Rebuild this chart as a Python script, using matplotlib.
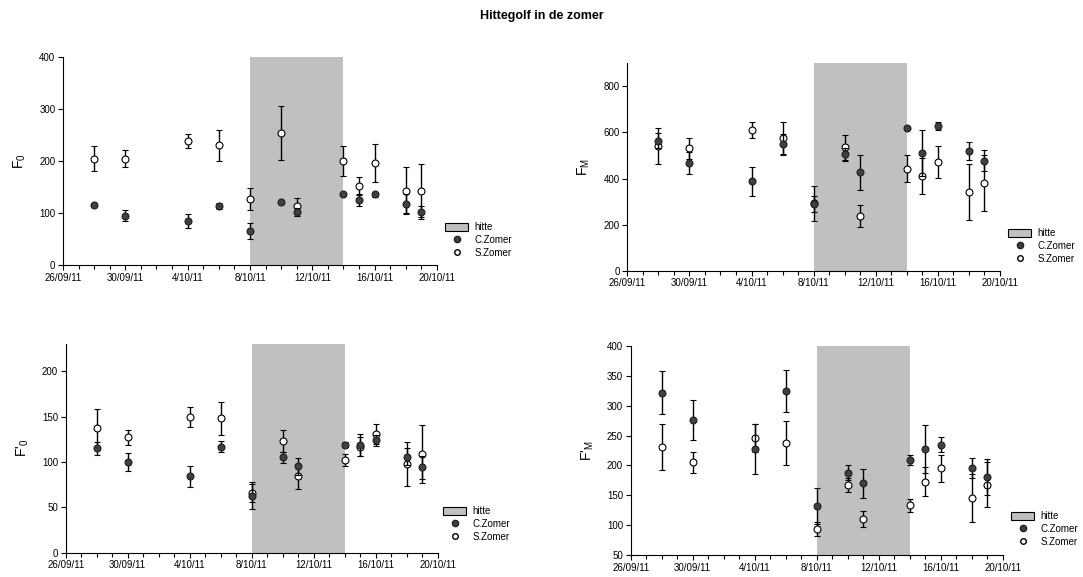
import numpy as np
import matplotlib
matplotlib.use("Agg")
import matplotlib.pyplot as plt
import matplotlib.dates as mdates
from matplotlib.patches import Patch
from matplotlib.lines import Line2D
import datetime as dt

plt.rcParams['font.family'] = ['Liberation Sans', 'DejaVu Sans']
plt.rcParams['mathtext.default'] = 'regular'

# measurement days
days = ['2011-09-28', '2011-09-30', '2011-10-04', '2011-10-06', '2011-10-08', '2011-10-10',
        '2011-10-11', '2011-10-14', '2011-10-15', '2011-10-16', '2011-10-18', '2011-10-19']
dates = [dt.datetime.strptime(d, '%Y-%m-%d') for d in days]
hitte_start = dt.datetime(2011, 10, 8)
hitte_end = dt.datetime(2011, 10, 14)

# F0
f0_c = [115, 95, 85, 114, 65, 121, 102, 136, 125, 136, 118, 101]
f0_c_err = [3, 11, 13, 6, 15, 3, 8, 3, 11, 5, 18, 12]
f0_s = [204, 204, 238, 230, 126, 254, 114, 200, 152, 196, 143, 143]
f0_s_err = [24, 16, 13, 30, 21, 52, 15, 29, 17, 36, 46, 50]

# FM
fm_c = [564, 466, 388, 550, 290, 506, 427, 619, 511, 629, 521, 478]
fm_c_err = [32, 48, 63, 43, 35, 28, 76, 10, 100, 18, 39, 46]
fm_s = [542, 532, 611, 574, 292, 535, 237, 442, 410, 470, 341, 380]
fm_s_err = [79, 46, 36, 70, 76, 55, 47, 58, 79, 69, 120, 120]

# F'0
f0p_c = [115, 100, 84, 117, 63, 105, 95, 119, 119, 124, 106, 94]
f0p_c_err = [7, 10, 12, 6, 15, 6, 9, 3, 12, 6, 9, 13]
f0p_s = [137, 127, 150, 148, 66, 123, 84, 102, 117, 131, 98, 109]
f0p_s_err = [21, 8, 11, 18, 10, 12, 14, 7, 10, 11, 24, 32]

# F'M
fmp_c = [322, 276, 227, 325, 132, 188, 170, 209, 227, 235, 196, 180]
fmp_c_err = [36, 33, 42, 35, 30, 12, 24, 8, 40, 13, 17, 30]
fmp_s = [231, 205, 246, 238, 94, 167, 110, 133, 173, 195, 146, 168]
fmp_s_err = [38, 18, 24, 37, 12, 12, 13, 11, 25, 23, 40, 38]


def datelabel(v, pos):
    d = mdates.num2date(v)
    if d.month == 9:
        return '%d/%02d/11' % (d.day, d.month)
    return '%d/%d/11' % (d.day, d.month)


W, H = 1083, 577
fig = plt.figure(figsize=(W / 100, H / 100), dpi=100)
fig.text(0.5, 1 - 16 / H, 'Hittegolf in de zomer', ha='center', va='center',
         fontsize=9, fontweight='bold')

panels = [
    # left, bottom, width, height (px), ylim, yticks, ylabel, data, legend spot
    ((63, 265, 374, 208.3), (0, 400), range(0, 401, 100), r'F$_0$',
     f0_c, f0_c_err, f0_s, f0_s_err, (445, 222)),
    ((627.3, 270.7, 372.7, 207.4), (0, 900), range(0, 801, 200), r'F$_M$',
     fm_c, fm_c_err, fm_s, fm_s_err, (1008, 228)),
    ((65.7, 552.7, 372, 208.7), (0, 230), range(0, 201, 50), r"F'$_0$",
     f0p_c, f0p_c_err, f0p_s, f0p_s_err, (443, 506)),
    ((630.7, 555, 372, 209), (50, 400), range(50, 401, 50), r"F'$_M$",
     fmp_c, fmp_c_err, fmp_s, fmp_s_err, (1011, 511)),
]

for (l, b, w, h), ylim, yt, ylab, c, ce, s, se, leg in panels:
    ax = fig.add_axes([l / W, (H - b) / H, w / W, h / H])
    ax.axvspan(hitte_start, hitte_end, color='#c0c0c0', zorder=0, lw=0)
    ax.errorbar(dates, s, yerr=se, fmt='o', mfc='white', mec='black', mew=0.8,
                ms=5, ecolor='black', elinewidth=1, capsize=2.5, capthick=1, zorder=3)
    ax.errorbar(dates, c, yerr=ce, fmt='o', mfc='#404040', mec='#202020', mew=0.8,
                ms=5, ecolor='black', elinewidth=1, capsize=2.5, capthick=1, zorder=4)
    ax.set_xlim(dt.datetime(2011, 9, 26), dt.datetime(2011, 10, 20))
    ax.set_ylim(*ylim)
    ax.set_yticks(list(yt))
    ax.xaxis.set_major_locator(mdates.DayLocator(bymonthday=[26, 30, 4, 8, 12, 16, 20]))
    ax.xaxis.set_minor_locator(mdates.DayLocator())
    ax.xaxis.set_major_formatter(plt.FuncFormatter(datelabel))
    ax.tick_params(axis='both', which='major', direction='out', length=3.5, width=0.8,
                   labelsize=7, pad=2)
    ax.tick_params(axis='x', which='minor', direction='out', length=3, width=0.8)
    for sp in ('top', 'right'):
        ax.spines[sp].set_visible(False)
    for sp in ('left', 'bottom'):
        ax.spines[sp].set_linewidth(0.8)
    ax.set_ylabel(ylab, fontsize=10, labelpad=8)

    handles = [
        Patch(facecolor='#c0c0c0', edgecolor='black', lw=0.8, label='hitte'),
        Line2D([], [], ls='none', marker='o', ms=4.5, mfc='#404040', mec='#202020', label='C.Zomer'),
        Line2D([], [], ls='none', marker='o', ms=4, mfc='white', mec='black', label='S.Zomer'),
    ]
    ax.legend(handles=handles, loc='upper left',
              bbox_to_anchor=(leg[0] / W, (H - leg[1]) / H), bbox_transform=fig.transFigure,
              frameon=False, fontsize=7, handlelength=2.4, handleheight=0.9,
              handletextpad=0.6, labelspacing=0.3, borderpad=0, borderaxespad=0)

fig.savefig('out.png', dpi=100)
